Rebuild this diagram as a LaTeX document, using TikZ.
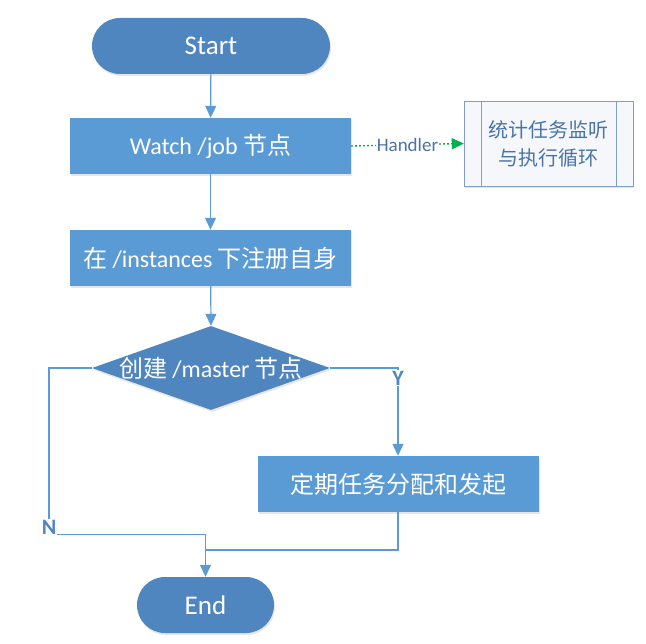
\documentclass[tikz,border=0pt]{standalone}
\usepackage{fontspec}
\setmainfont{Carlito}
\newfontfamily\cjk{Noto Sans CJK SC}
\usetikzlibrary{shapes.geometric,arrows.meta,shadows}
\newcommand{\zh}[1]{{\cjk #1}}
\definecolor{termblue}{HTML}{4F86BF}
\definecolor{boxblue}{HTML}{5B9BD5}
\definecolor{linkblue}{HTML}{5B9BD5}
\definecolor{procline}{HTML}{7F9FC9}
\definecolor{proctext}{HTML}{4A74A8}
\definecolor{hgreen}{HTML}{00B050}

\begin{document}
\begin{tikzpicture}[x=1pt,y=-1pt,
	shade/.style={drop shadow={opacity=0.2,shadow xshift=1pt,shadow yshift=-2pt}},
	term/.style={shade,fill=termblue,rounded corners=28pt,text=white,font=\fontsize{27}{28}\selectfont,minimum height=56pt},
	proc/.style={shade,fill=boxblue,text=white,font=\fontsize{24}{26}\selectfont,minimum width=281pt,minimum height=56pt},
	link/.style={draw=linkblue,line width=1.2pt,-{Triangle[width=11pt,length=12pt]}},
	yn/.style={text=termblue,font=\bfseries\fontsize{22}{22}\selectfont,inner sep=1pt}]
	\useasboundingbox (0,0) rectangle (646,644);
	\node[term,minimum width=238pt] (start) at (211,46) {Start};
	\node[proc] (watch) at (210.5,146) {Watch /job \zh{节点}};
	\node[proc] (reg) at (210.5,258) {\zh{在} /instances \zh{下注册自身}};
	\node[shade,diamond,fill=termblue,inner sep=0pt,minimum width=238pt,minimum height=84pt,
		label={[text=white,font=\fontsize{24}{26}\selectfont]center:\zh{创建} /master \zh{节点}}] (dec) at (211,368) {};
	\node[proc] (task) at (398,484) {\zh{定期任务分配和发起}};
	\node[term,minimum width=137pt] (end) at (205.5,605) {End};
	\node[shade,draw=procline,fill=procline!8,text=proctext,minimum width=169pt,minimum height=85pt,
		align=center,font=\cjk\fontsize{20}{28}\selectfont] (hb) at (548.5,143.5) {统计任务监听\\与执行循环};
	\draw[procline] ([xshift=17pt]hb.north west) -- ([xshift=17pt]hb.south west);
	\draw[procline] ([xshift=-17pt]hb.north east) -- ([xshift=-17pt]hb.south east);
	\node[yn] (ylab) at (398,378) {Y};
	\node[yn] (nlab) at (49,527) {N};
	\coordinate (mrg) at (end.north |- 0,550);
	\draw[link] (start) -- (watch);
	\draw[link] (watch) -- (reg);
	\draw[link] (reg) -- (dec.north);
	\draw[draw=linkblue,line width=1.2pt] (dec.east) -| (ylab.north);
	\draw[link] (ylab.south) -- (task.north);
	\draw[draw=linkblue,line width=1.2pt] (dec.west) -| (nlab.north);
	\draw[link] (nlab.base east) -| (end.north);
	\draw[draw=linkblue,line width=1.2pt] (task.south) |- (mrg);
	\draw[hgreen,line width=1.4pt,dash pattern=on 2pt off 2pt,-{Triangle[width=11pt,length=12pt]}] (watch.east) --
		node[fill=white,text=proctext,inner sep=1pt,font=\fontsize{19}{20}\selectfont] (hlab) {Handler} (hb.west);
\end{tikzpicture}
\end{document}
